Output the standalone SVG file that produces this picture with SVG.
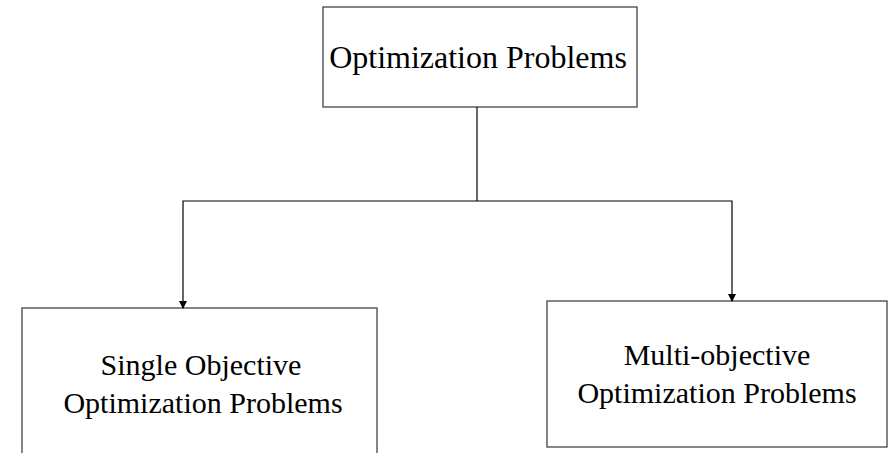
<svg xmlns="http://www.w3.org/2000/svg" width="888" height="453" viewBox="0 0 888 453">
<style>
.box{fill:#fff;stroke:#444;stroke-width:1.3}
.t{font-family:"Liberation Serif","Times New Roman",serif;fill:#000;text-anchor:middle}
.c{fill:none;stroke:#000;stroke-width:1.2}
</style>
<defs>
<marker id="ah" markerWidth="8" markerHeight="8" refX="7" refY="4" orient="auto" markerUnits="userSpaceOnUse">
<path d="M0,0 L8,4 L0,8 Z" fill="#000"/>
</marker>
</defs>
<rect width="888" height="453" fill="#fff"/>
<g id="top">
<rect class="box" x="323" y="7" width="314" height="100"/>
<text class="t" x="478" y="68" font-size="32">Optimization Problems</text>
</g>
<g id="single">
<rect class="box" x="22" y="308" width="355" height="160"/>
<text class="t" x="201" y="375" font-size="30">Single Objective</text>
<text class="t" x="203" y="413" font-size="30">Optimization Problems</text>
</g>
<g id="multi">
<rect class="box" x="547" y="301" width="340" height="146"/>
<text class="t" x="717" y="365" font-size="30">Multi-objective</text>
<text class="t" x="717" y="403" font-size="30">Optimization Problems</text>
</g>
<g id="connectors">
<path class="c" d="M477,107 V201"/>
<path class="c" d="M477,201 H183 V308" marker-end="url(#ah)"/>
<path class="c" d="M477,201 H732 V301" marker-end="url(#ah)"/>
</g>
</svg>
